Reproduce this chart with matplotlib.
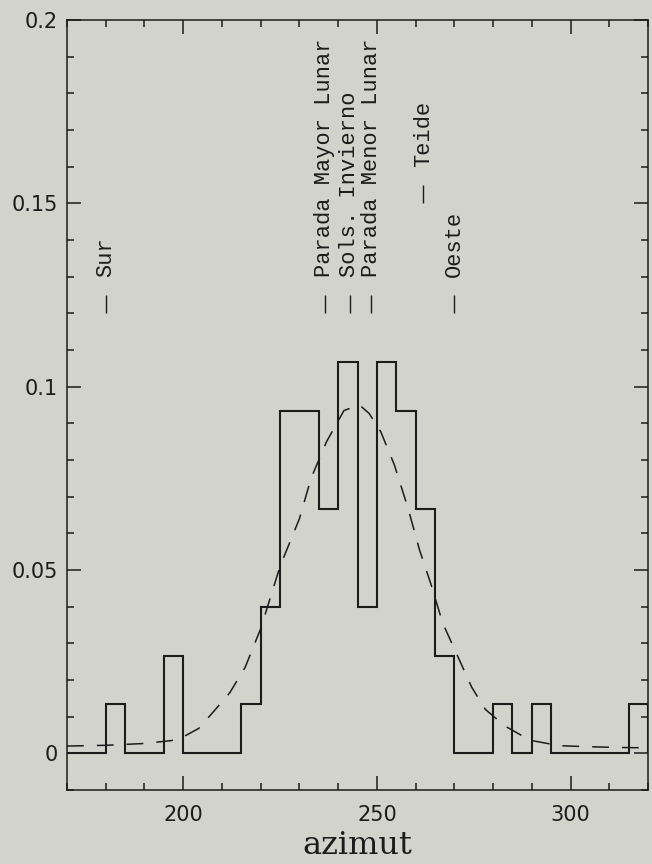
import numpy as np
import matplotlib
matplotlib.use("Agg")
import matplotlib.pyplot as plt
from matplotlib.ticker import MultipleLocator, FuncFormatter

# histogram: counts per 5-degree bin starting at 170
bin_edges = np.arange(170, 325, 5)
counts = [0, 0, 1, 0, 0, 2, 0, 0, 0, 1,
          3, 7, 7, 5, 8, 3, 8, 7, 5, 2,
          0, 0, 1, 0, 1, 0, 0, 0, 0, 1]
n_total = 75

# fitted curve
curve_x = [170, 180, 190, 197, 200, 204, 208, 212, 216, 220, 225, 230, 233,
           237, 241.5, 245.5, 248, 251, 254.5, 258, 261, 264, 267, 271.5,
           274.5, 278, 283, 289.5, 297, 305, 313, 320]
curve_y = [0.002, 0.0022, 0.0027, 0.0035, 0.0045, 0.0068, 0.0116, 0.0165,
           0.0235, 0.034, 0.051, 0.064, 0.075, 0.085, 0.0935, 0.095, 0.0927,
           0.0877, 0.0787, 0.067, 0.0555, 0.046, 0.0355, 0.025, 0.018, 0.012,
           0.0075, 0.0036, 0.0021, 0.0018, 0.0016, 0.0015]

# reference azimuths
ref_labels = ["Sur", "Parada Mayor Lunar", "Sols. Invierno",
              "Parada Menor Lunar", "Teide", "Oeste"]
ref_az = [180, 236.5, 243, 248.5, 262, 270]
ref_mark_lo = [0.120, 0.120, 0.120, 0.120, 0.150, 0.120]

BG = "#d2d3cd"
INK = "#1c1c1c"

fig = plt.figure(figsize=(6.52, 8.64), dpi=100, facecolor=BG)
ax = fig.add_axes([0.1028, 0.0856, 0.8911, 0.8913], facecolor=BG)

heights = np.array(counts) / n_total
ax.stairs(heights, bin_edges, color=INK, linewidth=1.5)
ax.plot(curve_x, curve_y, color=INK, linewidth=1.1,
        linestyle=(0, (11, 8.5)))

for lbl, az, lo in zip(ref_labels, ref_az, ref_mark_lo):
    ax.vlines(az, lo, lo + 0.005, color=INK, linewidth=1.0)
    ax.text(az, lo + 0.0098, lbl, rotation=90, ha="center", va="bottom",
            family="Liberation Mono", fontsize=15.8, color=INK)

ax.set_xlim(170, 320)
ax.set_ylim(-0.01, 0.2)
ax.xaxis.set_major_locator(MultipleLocator(50))
ax.xaxis.set_minor_locator(MultipleLocator(10))
ax.yaxis.set_major_locator(MultipleLocator(0.05))
ax.yaxis.set_minor_locator(MultipleLocator(0.01))
ax.yaxis.set_major_formatter(FuncFormatter(lambda v, p: f"{v:g}"))

ax.tick_params(which="both", direction="in", top=True, right=True,
               color=INK, width=1.1, labelcolor=INK)
ax.tick_params(which="major", length=10, labelsize=15)
ax.tick_params(which="minor", length=5)
ax.tick_params(axis="y", which="major", pad=6.5)
ax.tick_params(axis="x", which="major", pad=11)
for sp in ax.spines.values():
    sp.set_linewidth(1.1)
    sp.set_color(INK)

ax.set_xlabel("azimut", family="DejaVu Serif", fontsize=23, color=INK,
              labelpad=3.5)

fig.savefig("out.png", dpi=100, facecolor=BG)
